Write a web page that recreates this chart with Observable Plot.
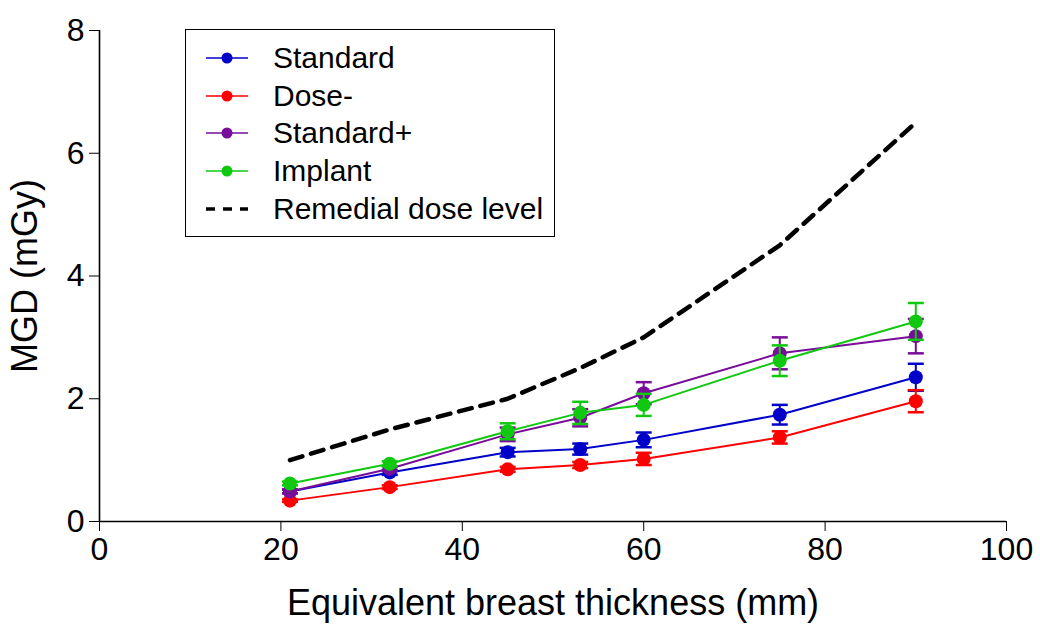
<!DOCTYPE html>
<html>
<head>
<meta charset="utf-8">
<script src="https://cdn.jsdelivr.net/npm/d3@7"></script>
<script src="https://cdn.jsdelivr.net/npm/@observablehq/plot@0.6"></script>
<style>
  html, body { margin: 0; padding: 0; background: #fff; }
  #wrap { position: relative; width: 1040px; height: 624px; font-family: "Liberation Sans", Arial, sans-serif; }
  #legend { position: absolute; left: 185px; top: 29px; width: 368px; height: 206px; border: 1.6px solid #000; background: #fff; }
  .item { position: absolute; left: 20px; height: 36px; display: flex; align-items: center; font-size: 30px; color: #000; }
  .item svg { margin-right: 25px; }
</style>
</head>
<body>
<div id="wrap"></div>
<script>
// Data
const thickness = [21, 32, 45, 53, 60, 75, 90];
const seriesNames = ["Standard", "Dose-", "Standard+", "Implant"];
const seriesColors = ["#0000c8", "#ff0000", "#770d99", "#10c810"];
const standardMean = [0.49, 0.80, 1.13, 1.18, 1.33, 1.74, 2.35];
const standardErr  = [0.03, 0.04, 0.07, 0.09, 0.12, 0.16, 0.22];
const doseMinusMean = [0.34, 0.56, 0.85, 0.92, 1.02, 1.37, 1.96];
const doseMinusErr  = [0.02, 0.03, 0.04, 0.05, 0.10, 0.10, 0.18];
const standardPlusMean = [0.49, 0.86, 1.42, 1.69, 2.09, 2.74, 3.02];
const standardPlusErr  = [0.03, 0.04, 0.11, 0.14, 0.18, 0.26, 0.28];
const implantMean = [0.62, 0.94, 1.47, 1.77, 1.90, 2.62, 3.26];
const implantErr  = [0.03, 0.04, 0.13, 0.18, 0.18, 0.25, 0.30];
const remedialDose = [1.0, 1.5, 2.0, 2.5, 3.0, 4.5, 6.5];
const xTicks = [0, 20, 40, 60, 80, 100];
const yTicks = [0, 2, 4, 6, 8];

const means = [standardMean, doseMinusMean, standardPlusMean, implantMean];
const errs = [standardErr, doseMinusErr, standardPlusErr, implantErr];

const rows = [];
seriesNames.forEach((name, si) => {
  thickness.forEach((t, i) => {
    rows.push({series: name, x: t, y: means[si][i], lo: means[si][i] - errs[si][i], hi: means[si][i] + errs[si][i]});
  });
});
const remedial = thickness.map((t, i) => ({x: t, y: remedialDose[i]}));

const capSymbol = {
  draw(context, size) {
    const w = 8;
    context.moveTo(-w, 0);
    context.lineTo(w, 0);
  }
};

const colorScale = {domain: seriesNames, range: seriesColors};

const marks = [
  Plot.axisX({ticks: xTicks, tickSize: 10, tickPadding: 6, fontSize: 32, label: null}),
  Plot.axisY({ticks: yTicks, tickSize: 10, tickPadding: 5, fontSize: 32, label: null}),
  Plot.axisX({ticks: [], tickSize: 0, fontSize: 36, label: "Equivalent breast thickness (mm)", labelAnchor: "center", labelArrow: "none", labelOffset: 93}),
  Plot.axisY({ticks: [], tickSize: 0, fontSize: 36, label: "MGD (mGy)", labelAnchor: "center", labelArrow: "none", labelOffset: 88}),
  Plot.ruleX([0], {stroke: "#000", strokeWidth: 1.6}),
  Plot.ruleY([0], {stroke: "#000", strokeWidth: 1.6}),
  Plot.line(remedial, {x: "x", y: "y", stroke: "#000", strokeWidth: 4.5, strokeDasharray: "13,9"})
];
seriesNames.forEach((name, si) => {
  const d = rows.filter(r => r.series === name);
  marks.push(
    Plot.ruleX(d, {x: "x", y1: "lo", y2: "hi", stroke: "series", strokeWidth: 2}),
    Plot.dot(d, {x: "x", y: "lo", symbol: () => capSymbol, stroke: "series", strokeWidth: 2.5, r: 4}),
    Plot.dot(d, {x: "x", y: "hi", symbol: () => capSymbol, stroke: "series", strokeWidth: 2.5, r: 4}),
    Plot.line(d, {x: "x", y: "y", stroke: "series", strokeWidth: 2}),
    Plot.dot(d, {x: "x", y: "y", fill: "series", r: 7})
  );
});

const chart = Plot.plot({
  width: 1040,
  height: 624,
  marginLeft: 99,
  marginRight: 34,
  marginTop: 30,
  marginBottom: 103,
  style: {fontFamily: "Liberation Sans, Arial, sans-serif", fontSize: "32px", color: "#000", background: "#fff"},
  x: {domain: [0, 100]},
  y: {domain: [0, 8]},
  color: colorScale,
  symbol: {type: "identity"},
  marks
});
const wrap = document.getElementById("wrap");
wrap.appendChild(chart);

// Legend overlay
const legend = document.createElement("div");
legend.id = "legend";
const entries = seriesNames.map((n, i) => ({name: n, color: seriesColors[i], dashed: false}))
  .concat([{name: "Remedial dose level", color: "#000", dashed: true}]);
entries.forEach((e, i) => {
  const item = document.createElement("div");
  item.className = "item";
  item.style.top = (10 + i * 37.7) + "px";
  const sw = d3.create("svg").attr("width", 42).attr("height", 20);
  if (e.dashed) {
    sw.append("line").attr("x1", 0).attr("x2", 42).attr("y1", 10).attr("y2", 10)
      .attr("stroke", e.color).attr("stroke-width", 3.5).attr("stroke-dasharray", "9,8");
  } else {
    sw.append("line").attr("x1", 0).attr("x2", 42).attr("y1", 10).attr("y2", 10)
      .attr("stroke", e.color).attr("stroke-width", 1.5);
    sw.append("circle").attr("cx", 21).attr("cy", 10).attr("r", 5.5).attr("fill", e.color);
  }
  item.appendChild(sw.node());
  const span = document.createElement("span");
  span.textContent = e.name;
  item.appendChild(span);
  legend.appendChild(item);
});
wrap.appendChild(legend);
</script>
</body>
</html>
